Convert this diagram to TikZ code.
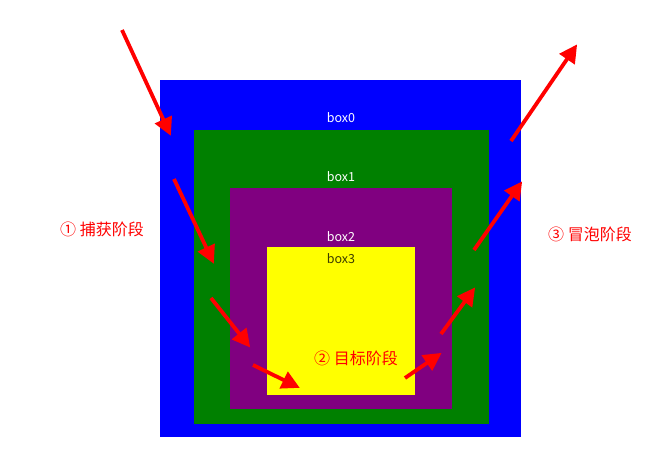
\documentclass[tikz,border=0pt]{standalone}
\usepackage{fontspec}
\setmainfont{Noto Sans CJK SC}
\usetikzlibrary{arrows.meta}

\begin{document}
\begin{tikzpicture}[x=1pt,y=-1pt]
      \tikzset{box/.style = {shape=rectangle,inner sep=0pt,outer sep=0pt}}
      \tikzset{boxlabel/.style = {text=white,font=\fontsize{12.5}{13}\selectfont}}
      \tikzset{phase/.style = {text=red,font=\fontsize{16}{18}\selectfont}}
      \tikzset{flow/.style = {draw=red,line width=3.8pt,-{Triangle[length=18pt,width=18pt]},shorten >=-2pt}}
      \useasboundingbox (0,0) rectangle (659,450);

      \node[box,fill={rgb,255:red,0;green,0;blue,255},minimum width=361pt,minimum height=357pt] (box0) at (340.5,258.5) {};
      \node[box,fill={rgb,255:red,0;green,128;blue,0},minimum width=295pt,minimum height=294pt] (box1) at (341,277) {};
      \node[box,fill={rgb,255:red,128;green,0;blue,128},minimum width=222pt,minimum height=221pt] (box2) at (341,298.5) {};
      \node[box,fill={rgb,255:red,255;green,255;blue,0},minimum width=148pt,minimum height=148pt] (box3) at (341,321) {};

      \node[boxlabel] (l0) at (341,118) {box0};
      \node[boxlabel] (l1) at (341,177) {box1};
      \node[boxlabel] (l2) at (341,237) {box2};
      \node[boxlabel,text={rgb,255:red,60;green,60;blue,0}] (l3) at (341,259) {box3};

      \node[phase] (capture) at (102,229) {① 捕获阶段};
      \node[phase] (target) at (356,358) {② 目标阶段};
      \node[phase] (bubble) at (590,234) {③ 冒泡阶段};

      % capture
      \coordinate (c1) at (122,30);  \coordinate (c2) at (170,134);
      \coordinate (c3) at (174,179); \coordinate (c4) at (213,262);
      \coordinate (c5) at (211,298); \coordinate (c6) at (249,346);
      \coordinate (c7) at (253,365); \coordinate (c8) at (298,387);
      % bubble
      \coordinate (b1) at (405,378); \coordinate (b2) at (440,354);
      \coordinate (b3) at (441,334); \coordinate (b4) at (474,289);
      \coordinate (b5) at (474,250); \coordinate (b6) at (521,183);
      \coordinate (b7) at (511,141); \coordinate (b8) at (576,46);

      \draw[flow] (c1) -- (c2);
      \draw[flow] (c3) -- (c4);
      \draw[flow] (c5) -- (c6);
      \draw[flow] (c7) -- (c8);
      \draw[flow] (b1) -- (b2);
      \draw[flow] (b3) -- (b4);
      \draw[flow] (b5) -- (b6);
      \draw[flow] (b7) -- (b8);
    \end{tikzpicture}
\end{document}
